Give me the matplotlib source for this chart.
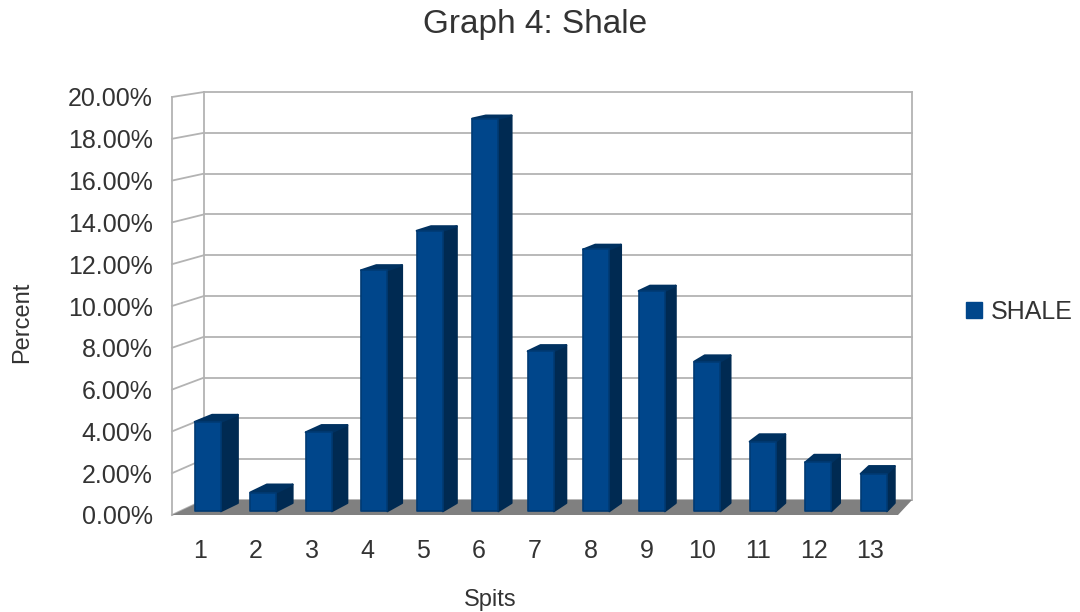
import matplotlib
matplotlib.use('Agg')
import matplotlib.pyplot as plt
from matplotlib.patches import Polygon, Patch

plt.rcParams['font.family'] = ['Liberation Sans', 'DejaVu Sans']

#######################
###   Data   ##########
#######################

spits = list(range(1, 14))
shale_pct = [4.3, 0.9, 3.8, 11.6, 13.5, 18.9, 7.7, 12.6, 10.6, 7.2, 3.35, 2.35, 1.8]
pct_ticks = [0, 2, 4, 6, 8, 10, 12, 14, 16, 18, 20]

#######################
###   Styling   #######
#######################

TXT = '#333333'
GRID = '#b3b3b3'
FLOOR = '#808080'
FRONT = '#00468b'
SIDE = '#002a52'
TOP = '#003160'

# oblique view: a point at depth d (0 = front, 1 = back wall) is mapped
# onto the front plane's data coordinates
BACK_KX, BACK_OX = 0.9752, 0.573   # x scale / shift of the back wall
BACK_KV, BACK_OV = 0.976, 0.718    # value scale / shift of the back wall
X0, X1 = 0.5, 13.5
V1 = 20

def proj(x, v, d):
    kx = 1 + d * (BACK_KX - 1)
    kv = 1 + d * (BACK_KV - 1)
    return (X0 + (x - X0) * kx + d * BACK_OX, v * kv + d * BACK_OV)

def face(ax, pts, color, z, ec=None, lw=0.0):
    ax.add_patch(Polygon([proj(*p) for p in pts], closed=True, facecolor=color,
                         edgecolor=ec if ec else color, lw=lw, joinstyle='round',
                         clip_on=False, zorder=z))

fig = plt.figure(figsize=(10.8, 6.12), dpi=100)
ax = fig.add_axes([172/1080, 97/612, 726/1080, 418/612])
ax.set_xlim(X0, X1)
ax.set_ylim(0, V1)
for s in ax.spines.values():
    s.set_visible(False)

### walls
for v in pct_ticks:
    a, b = proj(X0, v, 0), proj(X0, v, 1)
    ax.plot([a[0], b[0]], [a[1], b[1]], color=GRID, lw=1.3, clip_on=False, zorder=1)
    a, b = proj(X0, v, 1), proj(X1, v, 1)
    ax.plot([a[0], b[0]], [a[1], b[1]], color=GRID, lw=1.3, clip_on=False, zorder=1)
for x, d in [(X0, 0), (X0, 1), (X1, 1)]:
    a, b = proj(x, 0, d), proj(x, V1, d)
    ax.plot([a[0], b[0]], [a[1], b[1]], color=GRID, lw=1.3, clip_on=False, zorder=1)

### floor
face(ax, [(X0, 0, 0), (X1, 0, 0), (X1, 0, 1), (X0, 0, 1)], FLOOR, 2)

### bars
D1, D2, HW = 0.25, 0.8, 0.235
for x, v in zip(spits, shale_pct):
    l, r = x - HW, x + HW
    face(ax, [(r, 0, D1), (r, 0, D2), (r, v, D2), (r, v, D1)], SIDE, 3, lw=1.5)
    face(ax, [(l, v, D1), (r, v, D1), (r, v, D2), (l, v, D2)], TOP, 3, lw=1.5)
    face(ax, [(l, 0, D1), (r, 0, D1), (r, v, D1), (l, v, D1)], FRONT, 4,
         ec='#003a73', lw=1.2)

### axes text
ax.set_xticks(spits)
ax.set_xticklabels([str(s) for s in spits])
ax.set_yticks(pct_ticks)
ax.set_yticklabels(['%.2f%%' % t for t in pct_ticks])
ax.tick_params(axis='both', length=0, labelsize=18, labelcolor=TXT)
ax.tick_params(axis='x', pad=17)
ax.tick_params(axis='y', pad=14)

fig.suptitle('Graph 4: Shale', x=535/1080, y=1 - 25/612, va='center', fontsize=24,
             color=TXT)
fig.text(490/1080, 1 - 600/612, 'Spits', ha='center', va='center', fontsize=17, color=TXT)
fig.text(22/1080, 1 - 322/612, 'Percent', ha='center', va='center', rotation=90,
         fontsize=17, color=TXT)

fig.legend(handles=[Patch(facecolor=FRONT, edgecolor=FRONT, label='SHALE')],
           loc='center left', bbox_to_anchor=(966/1080, 1 - 312/612),
           frameon=False, fontsize=18, labelcolor=TXT, borderpad=0, borderaxespad=0,
           handlelength=0.64, handleheight=0.64, handletextpad=0.36)

plt.savefig('out.png', dpi=100)
